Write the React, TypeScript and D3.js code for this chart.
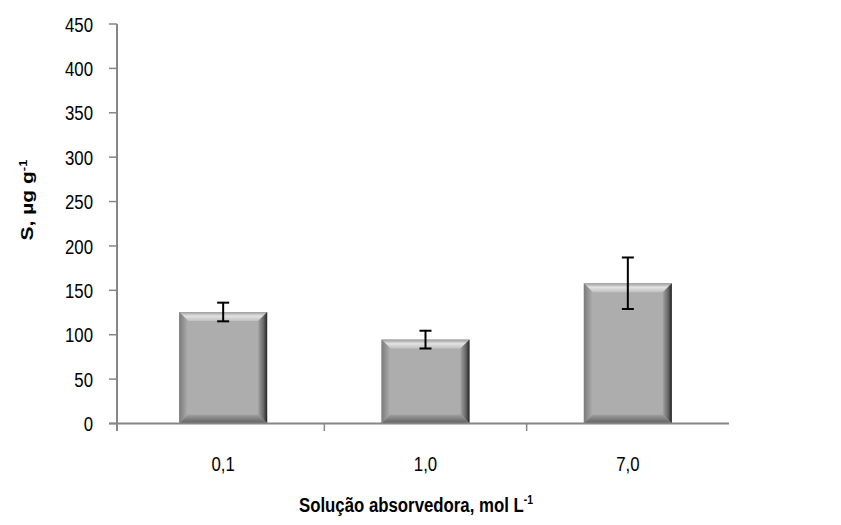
import React from "react";
import * as d3 from "d3";

const categories = ["0,1", "1,0", "7,0"];
const values = [125.6, 94.5, 158];
const errors = [10.5, 10, 29];
const yTicks = [0, 50, 100, 150, 200, 250, 300, 350, 400, 450];

const W = 841;
const H = 525;
const SX = 0.8; // horizontal text squeeze seen in the reference

export default function App() {
  const x = d3.scaleBand<string>().domain(categories).range([122, 729]).padding(0);
  const y = d3.scaleLinear().domain([0, 450]).range([423.5, 24]);
  const bw = 88;
  const axisColor = "#868686";
  const font = "'Liberation Sans', Arial, sans-serif";
  const cxOf = (c: string) => (x(c) as number) + x.bandwidth() / 2;

  const T = (props: {
    x: number;
    y: number;
    anchor?: string;
    size: number;
    bold?: boolean;
    rotate?: number;
    children: React.ReactNode;
    dy?: string;
  }) => (
    <text
      transform={`translate(${props.x},${props.y}) rotate(${props.rotate || 0}) scale(${props.rotate ? 1 : SX},${props.rotate ? SX : 1})`}
      textAnchor={props.anchor || "middle"}
      dy={props.dy}
      fontFamily={font}
      fontSize={props.size}
      fontWeight={props.bold ? "bold" : "normal"}
      fill="#000"
    >
      {props.children}
    </text>
  );

  return (
    <svg width={W} height={H} style={{ position: "absolute", left: 0, top: 0, background: "#fff" }}>
      <defs>
        <linearGradient id="gTop" x1="0" y1="0" x2="0" y2="1">
          <stop offset="0" stopColor="#9c9c9c" />
          <stop offset="0.45" stopColor="#e2e2e2" />
          <stop offset="1" stopColor="#c0c0c0" />
        </linearGradient>
        <linearGradient id="gLeft" x1="0" y1="0" x2="1" y2="0">
          <stop offset="0" stopColor="#7a7a7a" />
          <stop offset="1" stopColor="#b0b0b0" />
        </linearGradient>
        <linearGradient id="gRight" x1="0" y1="0" x2="1" y2="0">
          <stop offset="0" stopColor="#a2a2a2" />
          <stop offset="0.6" stopColor="#666666" />
          <stop offset="1" stopColor="#222222" />
        </linearGradient>
        <linearGradient id="gBottom" x1="0" y1="0" x2="0" y2="1">
          <stop offset="0" stopColor="#a0a0a0" />
          <stop offset="1" stopColor="#5e5e5e" />
        </linearGradient>
      </defs>

      {/* bars */}
      {categories.map((c, i) => {
        const cx = cxOf(c);
        const x0 = cx - bw / 2;
        const x1 = cx + bw / 2;
        const y0 = y(values[i]);
        const y1 = y(0);
        const b = Math.min(9, (y1 - y0) / 2);
        const pts = (arr: number[][]) => arr.map((p) => p.join(",")).join(" ");
        return (
          <g key={c}>
            <rect x={x0} y={y0} width={x1 - x0} height={y1 - y0} fill="#adadad" />
            <polygon points={pts([[x0, y0], [x1, y0], [x1 - b, y0 + b], [x0 + b, y0 + b]])} fill="url(#gTop)" />
            <polygon points={pts([[x0, y0], [x0 + b, y0 + b], [x0 + b, y1 - b], [x0, y1]])} fill="url(#gLeft)" />
            <polygon points={pts([[x1, y0], [x1, y1], [x1 - b, y1 - b], [x1 - b, y0 + b]])} fill="url(#gRight)" />
            <polygon points={pts([[x0, y1], [x1, y1], [x1 - b, y1 - b], [x0 + b, y1 - b]])} fill="url(#gBottom)" />
          </g>
        );
      })}

      {/* axes */}
      <line x1={117} x2={117} y1={24} y2={431} stroke={axisColor} strokeWidth={2} />
      {yTicks.map((t) => (
        <g key={t}>
          <line x1={109} x2={117} y1={y(t)} y2={y(t)} stroke={axisColor} strokeWidth={1.5} />
          <T x={93} y={y(t)} dy="0.36em" anchor="end" size={21}>
            {t}
          </T>
        </g>
      ))}
      <line x1={109} x2={729} y1={423.5} y2={423.5} stroke={axisColor} strokeWidth={2} />
      {categories.slice(1).map((c) => (
        <line key={c} x1={x(c) as number} x2={x(c) as number} y1={423.5} y2={431} stroke={axisColor} strokeWidth={1.5} />
      ))}
      {categories.map((c) => (
        <T key={c} x={cxOf(c)} y={471} size={21}>
          {c}
        </T>
      ))}

      {/* error bars */}
      {categories.map((c, i) => {
        const cx = cxOf(c);
        const yt = y(values[i] + errors[i]);
        const yb = y(values[i] - errors[i]);
        return (
          <g key={c} stroke="#000" strokeWidth={2}>
            <line x1={cx} x2={cx} y1={yt} y2={yb} />
            <line x1={cx - 6} x2={cx + 6} y1={yt} y2={yt} />
            <line x1={cx - 6} x2={cx + 6} y1={yb} y2={yb} />
          </g>
        );
      })}

      {/* axis titles */}
      <T x={33} y={200} rotate={-90} size={21} bold>
        S, µg g<tspan dy="-8" fontSize={13}>-1</tspan>
      </T>
      <T x={416} y={512} size={21} bold>
        Solução absorvedora, mol L<tspan dy="-8" fontSize={13}>-1</tspan>
      </T>
    </svg>
  );
}
